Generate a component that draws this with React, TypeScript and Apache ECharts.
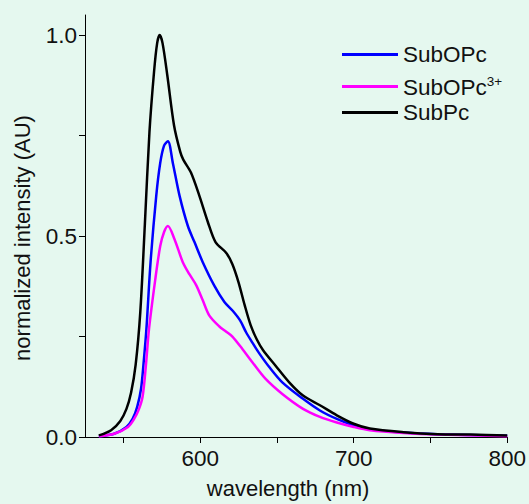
import React, { useEffect, useRef } from "react";
import * as echarts from "echarts";

// SubPc (black)
const subPcWl = [534, 542, 548, 552, 555, 558, 561, 564, 567, 570, 572, 573.6, 575.5, 578.6, 583, 587, 589, 594, 599.5, 605, 610, 617, 621, 625, 629, 633, 637, 641, 649, 658, 667, 678, 689, 700, 710.5, 732.5, 754.5, 776, 800];
const subPcVal = [0.004, 0.017, 0.04, 0.07, 0.11, 0.18, 0.31, 0.53, 0.76, 0.91, 0.98, 1.0, 0.98, 0.9, 0.775, 0.71, 0.69, 0.658, 0.6, 0.535, 0.485, 0.458, 0.43, 0.385, 0.328, 0.277, 0.242, 0.216, 0.178, 0.136, 0.103, 0.079, 0.054, 0.033, 0.021, 0.012, 0.007, 0.006, 0.004];

// SubOPc (blue)
const subOPcWl = [534, 544, 552, 556, 559, 561.5, 563.3, 565, 567.7, 571.4, 574, 576.5, 579, 582.2, 586.6, 592, 596.3, 601.7, 609.3, 615.8, 621.2, 626, 630, 634, 638.5, 645, 653.5, 667, 678, 689, 700, 710.5, 732.5, 754.5, 800];
const subOPcVal = [0.002, 0.008, 0.025, 0.045, 0.075, 0.12, 0.19, 0.269, 0.435, 0.6, 0.682, 0.725, 0.736, 0.682, 0.6, 0.525, 0.485, 0.435, 0.376, 0.336, 0.314, 0.29, 0.26, 0.235, 0.208, 0.174, 0.136, 0.095, 0.066, 0.045, 0.029, 0.019, 0.011, 0.007, 0.003];

// SubOPc3+ (magenta)
const subOPc3Wl = [534, 544, 553, 557, 560, 562.5, 564.6, 566.7, 570.8, 574, 576.5, 579, 583.3, 588.7, 593, 597.4, 601.7, 606, 612.5, 617, 621, 627.5, 634, 642.5, 653.5, 667, 678, 689, 700, 710.5, 732.5, 754.5, 800];
const subOPc3Val = [0.002, 0.008, 0.025, 0.045, 0.068, 0.1, 0.175, 0.269, 0.393, 0.475, 0.51, 0.525, 0.492, 0.435, 0.405, 0.378, 0.34, 0.302, 0.275, 0.262, 0.25, 0.219, 0.186, 0.145, 0.107, 0.07, 0.05, 0.036, 0.025, 0.017, 0.01, 0.006, 0.002];

const xTickValues = [550, 600, 650, 700, 750, 800];
const xLabelValues = [600, 700, 800];
const yTickValues = [0, 0.25, 0.5, 0.75, 1.0];
const yLabelValues = [0, 0.5, 1.0];

const seriesNames = ["SubOPc", "SubOPc3+", "SubPc"];

const FONT = "'Liberation Sans', Arial, sans-serif";
const TXT = "#111";

const pairs = (xs: number[], ys: number[]) => xs.map((x, i) => [x, ys[i]]);

export default function App() {
  const ref = useRef<HTMLDivElement>(null);
  useEffect(() => {
    document.body.style.margin = "0";
    const chart = echarts.init(ref.current!, null, { renderer: "svg" });
    const legendBase = {
      orient: "vertical",
      left: 342,
      padding: 0,
      itemWidth: 56,
      itemHeight: 3,
      icon: "rect",
      selectedMode: false,
      textStyle: {
        fontFamily: FONT,
        fontSize: 22.5,
        color: TXT,
        rich: {
          b: { fontFamily: FONT, fontSize: 22.5, color: TXT, lineHeight: 25, verticalAlign: "bottom" },
          s: { fontFamily: FONT, fontSize: 13.5, color: TXT, lineHeight: 25, verticalAlign: "top" },
        },
      },
      formatter: (n: string) => (n === "SubOPc3+" ? "{b|SubOPc}{s|3+}" : n),
    };
    const lineSeries = (name: string, xs: number[], ys: number[], color: string, z: number) => ({
      name,
      type: "line",
      data: pairs(xs, ys),
      showSymbol: false,
      smooth: 0.3,
      color,
      lineStyle: { width: 2.5, color },
      z,
    });
    chart.setOption({
      animation: false,
      backgroundColor: "#E5F8EF",
      textStyle: { fontFamily: FONT },
      grid: { left: 85, right: 20, top: 15, bottom: 66, containLabel: false },
      legend: [
        { ...legendBase, top: 43, data: [seriesNames[0]] },
        { ...legendBase, top: 74, data: [seriesNames[1]] },
        { ...legendBase, top: 101, data: [seriesNames[2]] },
      ],
      xAxis: {
        type: "value",
        min: 525,
        max: 800,
        name: "wavelength (nm)",
        nameLocation: "middle",
        nameGap: 40,
        nameTextStyle: { fontFamily: FONT, fontSize: 22, color: TXT, padding: [0, 16, 0, 0] },
        axisLine: { show: true, onZero: false, lineStyle: { color: "#000", width: 1 } },
        axisTick: { show: true, inside: false, length: 6, customValues: xTickValues, lineStyle: { color: "#000" } },
        axisLabel: {
          customValues: xLabelValues,
          margin: 10,
          fontFamily: FONT,
          fontSize: 22.5,
          color: TXT,
        },
        splitLine: { show: false },
      },
      yAxis: {
        type: "value",
        min: 0,
        max: 1.05,
        name: "normalized intensity (AU)",
        nameLocation: "middle",
        nameGap: 52,
        nameTextStyle: { fontFamily: FONT, fontSize: 22, color: TXT, padding: [0, 24, 0, 0] },
        axisLine: { show: true, lineStyle: { color: "#000", width: 1 } },
        axisTick: { show: true, inside: false, length: 6, customValues: yTickValues, lineStyle: { color: "#000" } },
        axisLabel: {
          customValues: yLabelValues,
          margin: 8,
          fontFamily: FONT,
          fontSize: 22.5,
          color: TXT,
          formatter: (v: number) => v.toFixed(1),
        },
        splitLine: { show: false },
      },
      series: [
        lineSeries(seriesNames[0], subOPcWl, subOPcVal, "#0000FF", 2),
        lineSeries(seriesNames[1], subOPc3Wl, subOPc3Val, "#FF00FF", 2),
        lineSeries(seriesNames[2], subPcWl, subPcVal, "#000000", 3),
      ],
    });
    return () => chart.dispose();
  }, []);
  return <div ref={ref} style={{ width: 529, height: 504 }} />;
}
